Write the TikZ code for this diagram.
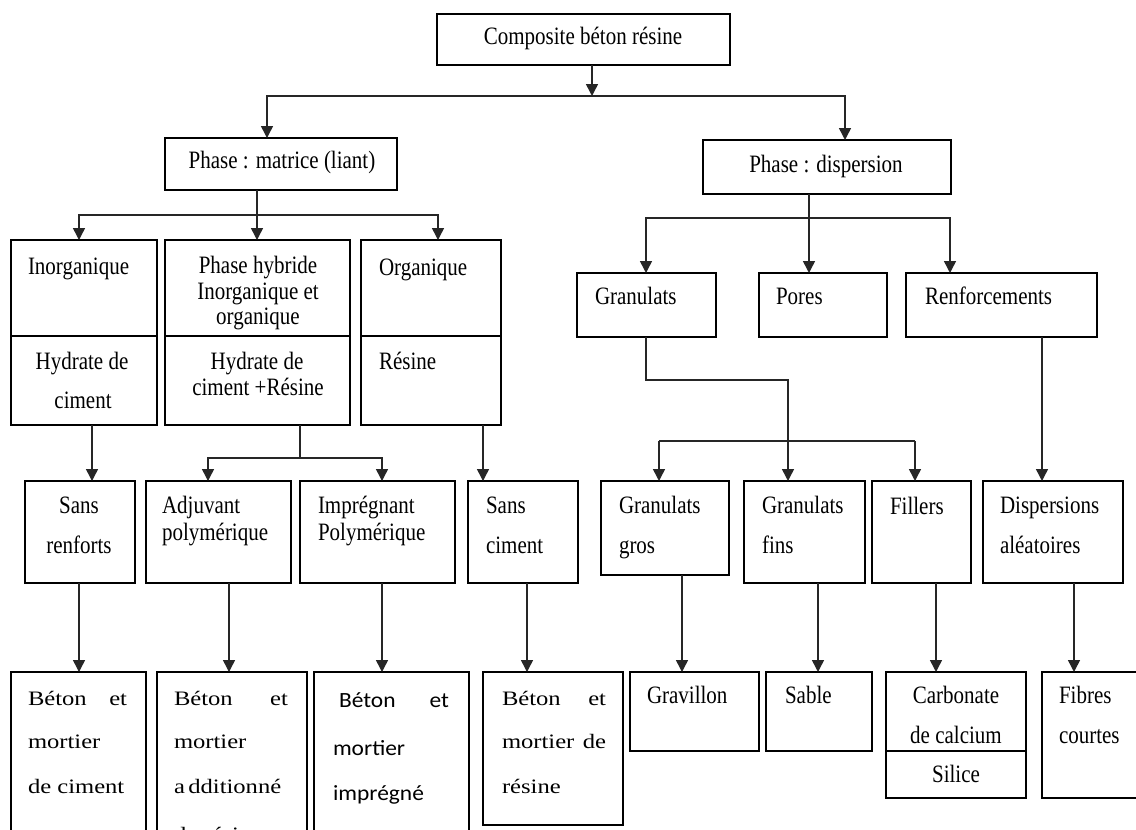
\documentclass[tikz,border=0pt]{standalone}
\usepackage{fontspec}
\setmainfont{Liberation Serif}[FakeStretch=0.84]
\newfontfamily\botfont{Liberation Serif}[FakeStretch=1.2]
\newfontfamily\calfont{Carlito}[FakeStretch=1.08]
\usetikzlibrary{arrows.meta}
\tikzset{
 box/.style={draw=black, line width=1.6pt, inner sep=0pt, outer sep=0pt},
 ln/.style={draw=black!85, line width=1.5pt},
 arr/.style={ln, -{Triangle[length=12pt,width=12pt]}},
 txt/.style={inner sep=0pt, outer sep=0pt, font=\fontsize{25}{25}\selectfont, anchor=base west},
 ctxt/.style={txt, anchor=base},
 btxt/.style={inner sep=0pt, outer sep=0pt, font=\botfont\fontsize{20.5}{21}\selectfont, anchor=base west},
 ktxt/.style={inner sep=0pt, outer sep=0pt, font=\calfont\fontsize{21.7}{22}\selectfont, anchor=base west},
}
\newcommand\bx[5]{\node[box, minimum width=#4pt-#2pt, minimum height=#5pt-#3pt] (#1) at ({(#2+#4)/2},{(#3+#5)/2}) {};}
\begin{document}
\begin{tikzpicture}[x=1pt,y=-1pt]
\useasboundingbox[fill=white] (0,0) rectangle (1136,830);
\clip (0,0) rectangle (1136,830);
% boxes
\bx{comp}{437}{14}{730}{65}
\bx{mat}{165}{138}{397}{190}
\bx{disp}{703}{140}{951}{194}
\bx{inorg}{11}{240}{157}{336}
\bx{hyd1}{11}{336}{157}{425}
\bx{hyb}{165}{240}{350}{336}
\bx{hyd2}{165}{336}{350}{425}
\bx{org}{361}{240}{501}{336}
\bx{res}{361}{336}{501}{425}
\bx{gran}{577}{273}{716}{337}
\bx{pores}{759}{273}{887}{337}
\bx{renf}{906}{273}{1097}{337}
\bx{sansr}{25}{481}{135}{583}
\bx{adj}{146}{481}{291}{583}
\bx{impr}{300}{481}{455}{583}
\bx{sansc}{468}{481}{578}{583}
\bx{ggros}{601}{481}{729}{575}
\bx{gfins}{744}{481}{865}{583}
\bx{fill}{872}{481}{971}{583}
\bx{daleat}{983}{481}{1123}{583}
\bx{b1}{11}{672}{146}{845}
\bx{b2}{157}{672}{307}{845}
\bx{b3}{314}{672}{469}{845}
\bx{b4}{483}{672}{623}{825}
\bx{grav}{630}{672}{759}{751}
\bx{sable}{766}{672}{872}{751}
\bx{carb}{886}{672}{1026}{751}
\bx{sil}{886}{751}{1026}{798}
\bx{fib}{1042}{672}{1145}{798}
% texts
\node[ctxt] (tcomp) at (583,44) {Composite béton résine};
\node[ctxt] (tmat) at (282,168) {Phase : matrice (liant)};
\node[ctxt] (tdisp) at (826,172) {Phase : dispersion};
\node[txt] (tinorg) at (28,274) {Inorganique};
\node[ctxt] (thyb1) at (258,273) {Phase hybride};
\node[ctxt] (thyb2) at (258,299) {Inorganique et};
\node[ctxt] (thyb3) at (258,324) {organique};
\node[txt] (torg) at (379,275) {Organique};
\node[ctxt] (thyd1a) at (82,369) {Hydrate de};
\node[ctxt] (thyd1b) at (83,408) {ciment};
\node[ctxt] (thyd2a) at (257,369) {Hydrate de};
\node[ctxt] (thyd2b) at (258,395) {ciment +Résine};
\node[txt] (tres) at (379,369) {Résine};
\node[txt] (tgran) at (595,304) {Granulats};
\node[txt] (tpores) at (776,304) {Pores};
\node[txt] (trenf) at (925,304) {Renforcements};
\node[ctxt] (tsansr1) at (79,513) {Sans};
\node[ctxt] (tsansr2) at (79,553) {renforts};
\node[txt] (tadj1) at (162,513) {Adjuvant};
\node[txt] (tadj2) at (162,540) {polymérique};
\node[txt] (timpr1) at (318,513) {Imprégnant};
\node[txt] (timpr2) at (318,540) {Polymérique};
\node[txt] (tsansc1) at (486,513) {Sans};
\node[txt] (tsansc2) at (486,553) {ciment};
\node[txt] (tggros1) at (619,513) {Granulats};
\node[txt] (tggros2) at (619,553) {gros};
\node[txt] (tgfins1) at (762,513) {Granulats};
\node[txt] (tgfins2) at (762,553) {fins};
\node[txt] (tfill) at (890,514) {Fillers};
\node[txt] (tdal1) at (1000,513) {Dispersions};
\node[txt] (tdal2) at (1000,553) {aléatoires};
\node[btxt] (tb1a) at (28,705) {\makebox[99pt][s]{Béton\hfill et}};
\node[btxt] (tb1b) at (28,748) {mortier};
\node[btxt] (tb1c) at (28,793) {de ciment};
\node[btxt] (tb2a) at (174,705) {\makebox[114pt][s]{Béton\hfill et}};
\node[btxt] (tb2b) at (174,748) {mortier};
\node[btxt] (tb2c) at (174,793) {a\,dditionné};
\node[btxt] (tb2d) at (174,841) {de résine};
\node[ktxt] (tb3a) at (339,707) {\makebox[110pt][s]{Béton\hfill et}};
\node[ktxt] (tb3b) at (333,755) {mortier};
\node[ktxt] (tb3c) at (333,800) {imprégné};
\node[btxt] (tb4a) at (502,705) {\makebox[104pt][s]{Béton\hfill et}};
\node[btxt] (tb4b) at (502,748) {\makebox[104pt][s]{mortier\hfill de}};
\node[btxt] (tb4c) at (502,793) {résine};
\node[txt] (tgrav) at (647,703) {Gravillon};
\node[txt] (tsable) at (785,703) {Sable};
\node[ctxt] (tcarb1) at (956,703) {Carbonate};
\node[ctxt] (tcarb2) at (956,743) {de calcium};
\node[ctxt] (tsil) at (956,782) {Silice};
\node[txt] (tfib1) at (1059,703) {Fibres};
\node[txt] (tfib2) at (1059,743) {courtes};
% x positions
\foreach \v in {79,92,208,229,267,382,438,483,527,646,682,818,845,936,950,1042,1074}
  \coordinate (x\v) at (\v,0);
% connectors
\coordinate (j1) at (592,96);
\draw[arr] (comp.south -| j1) -- (j1);
\draw[arr] (j1) -| (mat.north -| x267);
\draw[arr] (j1) -| (disp.north -| x845);
\coordinate (j2) at (257,215);
\draw[arr] (mat.south -| j2) -- (hyb.north -| j2);
\draw[arr] (j2) -| (inorg.north -| x79);
\draw[arr] (j2) -| (org.north -| x438);
\coordinate (j3) at (809,218);
\draw[arr] (disp.south -| j3) -- (pores.north -| j3);
\draw[arr] (j3) -| (gran.north -| x646);
\draw[arr] (j3) -| (renf.north -| x950);
\coordinate (k1) at (788,380);
\draw[arr] (gran.south -| x646) |- (k1) -- (gfins.north -| k1);
\coordinate (k2) at (659,441);
\coordinate (k3) at (915,441);
\draw[ln] (k2) -- (k3);
\draw[arr] (k2) -- (ggros.north -| k2);
\draw[arr] (k3) -- (fill.north -| k3);
\draw[arr] (renf.south -| x1042) -- (daleat.north -| x1042);
\coordinate (j5) at (300,458);
\draw[ln] (hyd2.south -| j5) -- (j5);
\draw[arr] (j5) -| (adj.north -| x208);
\draw[arr] (j5) -| (impr.north -| x382);
\draw[arr] (hyd1.south -| x92) -- (sansr.north -| x92);
\draw[arr] (res.south -| x483) -- (sansc.north -| x483);
\draw[arr] (sansr.south -| x79) -- (b1.north -| x79);
\draw[arr] (adj.south -| x229) -- (b2.north -| x229);
\draw[arr] (impr.south -| x382) -- (b3.north -| x382);
\draw[arr] (sansc.south -| x527) -- (b4.north -| x527);
\draw[arr] (ggros.south -| x682) -- (grav.north -| x682);
\draw[arr] (gfins.south -| x818) -- (sable.north -| x818);
\draw[arr] (fill.south -| x936) -- (carb.north -| x936);
\draw[arr] (daleat.south -| x1074) -- (fib.north -| x1074);
\end{tikzpicture}
\end{document}
